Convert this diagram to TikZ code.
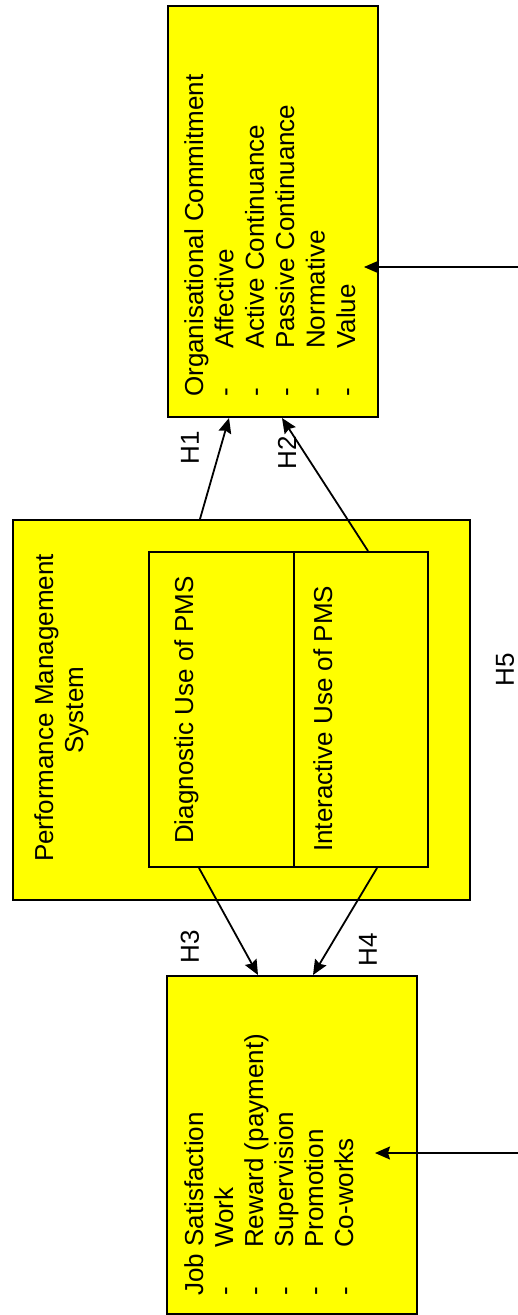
\documentclass[tikz,border=0pt]{standalone}
\usepackage{fontspec}
\setmainfont{Liberation Sans}
\usetikzlibrary{arrows.meta,calc}

\definecolor{boxyellow}{RGB}{255,255,0}
\tikzset{
  box/.style={draw, line width=2pt, fill=boxyellow, anchor=north west, inner sep=0pt},
  lbl/.style={rotate=90, inner sep=0pt, font=\fontsize{26}{30}\selectfont},
  item/.style={lbl, anchor=base west},
  hyp/.style={line width=1.8pt, -{Stealth[length=15pt,width=13pt,inset=2pt]}},
  ext/.style={line width=1.3pt, -{Stealth[length=15pt,width=13pt,inset=2pt]}},
}

\begin{document}
\begin{tikzpicture}[x=1pt,y=-1pt]
\useasboundingbox (0,0) rectangle (518,1315);
% boxes
\node[box, minimum width=210pt, minimum height=411pt] (oc) at (167,5) {};
\node[box, minimum width=457pt, minimum height=380pt] (pms) at (12,519) {};
\node[box, minimum width=145pt, minimum height=315pt] (diag) at (148,551) {};
\node[box, minimum width=134pt, minimum height=315pt] (inter) at (293,551) {};
\node[box, minimum width=250pt, minimum height=338pt] (js) at (166,975) {};
% texts
\node[item] (oc0) at (203,397) {Organisational Commitment};
\foreach \t [count=\i] in {Affective,Active Continuance,Passive Continuance,Normative,Value}
  \node[item] (oc\i) at (203+30.4*\i,397) {\makebox[48pt][l]{-}\t};
\node[lbl, anchor=base] (pms1) at (53,708) {Performance Management};
\node[lbl, anchor=base] (pms2) at (83,710) {System};
\node[item] (diagt) at (193,844) {Diagnostic Use of PMS};
\node[item] (intert) at (332,852) {Interactive Use of PMS};
\node[item] (js0) at (203,1296) {Job Satisfaction};
\foreach \t [count=\i] in {Work,Reward (payment),Supervision,Promotion,Co-works}
  \node[item] (js\i) at (203+30*\i,1296) {\makebox[48pt][l]{-}\t};
% hypotheses
\node[lbl] (h1) at (190,448) {H1};
\node[lbl] (h2) at (287,453) {H2};
\node[lbl] (h3) at (190,947) {H3};
\node[lbl] (h4) at (368,950) {H4};
\node[lbl] (h5) at (505,670) {H5};
\draw[hyp] ([xshift=188pt]pms.north west) -- ([xshift=62pt]oc.south west);
\draw[hyp] ([xshift=75pt]inter.north west) -- ([xshift=115pt]oc.south west);
\draw[hyp] ([xshift=51pt]diag.south west) -- ([xshift=92pt]js.north west);
\draw[hyp] ([xshift=84pt]inter.south west) -- ([xshift=147pt]js.north west);
% incoming from the right
\coordinate (ocsrc) at (518,267);
\coordinate (jssrc) at (518,1153);
\draw[ext] (ocsrc) -- ($(ocsrc -| oc.east)+(-15,0)$);
\draw[ext] (jssrc) -- ($(jssrc -| js.east)+(-43,0)$);
\end{tikzpicture}
\end{document}
